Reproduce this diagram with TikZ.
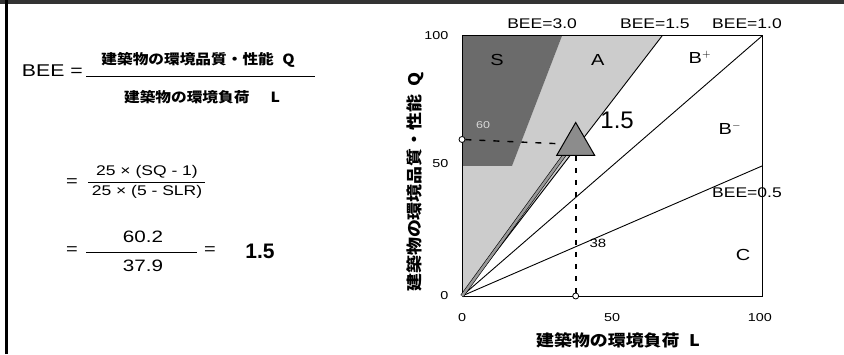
\documentclass[tikz,border=0pt]{standalone}
\usepackage{fontspec}
\setmainfont{Liberation Sans}
\newfontfamily\wide[FakeStretch=1.25]{Liberation Sans}
\newfontfamily\jp[FakeStretch=1.12]{Noto Sans CJK JP}
\usepackage{tikz}
\usetikzlibrary{shapes.geometric}
\tikzset{
  txt/.style = {inner sep=0pt, text centered},
  lbl/.style = {txt, font=\wide\fontsize{14}{14}\selectfont},% BEE=... labels
  tick_l/.style = {txt, font=\wide\fontsize{11.5}{11.5}\selectfont},% axis numbers
  zone_l/.style = {txt, font=\wide\fontsize{16}{16}\selectfont},% S, A, B, C
  jtitle/.style = {txt, font=\jp\bfseries\fontsize{16}{16}\selectfont},% axis titles
  jfrac/.style = {txt, font=\jp\bfseries\fontsize{14}{14}\selectfont},% words in BEE
  zone_s/.style = {fill=black!58},% rank S
  zone_a/.style = {fill=black!20},% rank A
  bee_l/.style = {line width=0.9pt},
  mark_o/.style = {circle, draw, fill=white, inner sep=0pt, minimum size=6pt,
    line width=0.8pt},
  dash_h/.style = {line width=1.4pt, dash pattern=on 6pt off 8pt},
  dash_v/.style = {line width=2pt, dash pattern=on 5pt off 7pt}
}
\begin{document}
\begin{tikzpicture}[x=1pt,y=1pt]
\useasboundingbox (0,0) rectangle (844,354);
% border of the page
\fill[black!80] (0,350) rectangle (844,354);
\draw[line width=3pt] (6,0) -- (6,354);

% left: formula
\node[txt, anchor=east, font=\wide\fontsize{17}{17}\selectfont] (bee) at (83,283) {BEE =};
\node[jfrac] (num) at (198,294) {建築物の環境品質・性能\hspace{0.6em}Q};
\node[jfrac] (den) at (202,257) {建築物の環境負荷\hspace{1.5em}L};
\draw (86,278) -- (315,278);

\node[txt, font=\wide\fontsize{16}{16}\selectfont] (eq1) at (72,171) {=};
\node[txt, font=\wide\fontsize{14}{14}\selectfont] (num2) at (147,182) {25 × (SQ - 1)};
\node[txt, font=\wide\fontsize{14}{14}\selectfont] (den2) at (147,162) {25 × (5 - SLR)};
\draw[line width=0.5pt] (88,172) -- (205,172);

\node[txt, font=\wide\fontsize{16}{16}\selectfont] (eq2) at (72,103) {=};
\node[txt, font=\wide\fontsize{16.5}{16.5}\selectfont] (num3) at (143,117) {60.2};
\node[txt, font=\wide\fontsize{16.5}{16.5}\selectfont] (den3) at (143,88) {37.9};
\draw[line width=0.8pt] (86,102) -- (197,102);
\node[txt, font=\wide\fontsize{16}{16}\selectfont] (eq3) at (210,103) {=};
\node[txt, font=\bfseries\fontsize{21}{21}\selectfont] (res) at (260,103) {1.5};

% right: chart
\begin{scope}[shift={(462,58)}, x=3pt, y=2.6pt]
  \fill[zone_a] (0,0) -- (0,50) -- (16.67,50) -- (33.33,100) -- (66.67,100) -- cycle;
  \fill[zone_s] (0,50) -- (0,100) -- (33.33,100) -- (16.67,50) -- cycle;
  \coordinate (o) at (0,0);
  \coordinate (e15) at (66.67,100);
  \coordinate (e10) at (100,100);
  \coordinate (e05) at (100,50);
  \coordinate (p) at (37.9,60.2);
  \draw[bee_l] (o) -- (e15);
  \draw[bee_l] (o) -- (e10);
  \draw[bee_l] (o) -- (e05);
  \draw[line width=1pt] (0,0) rectangle (100,100);
  \draw[double=black!40, double distance=2.5pt, line width=0.6pt] (o) -- (p);
  \node[regular polygon, regular polygon sides=3, draw, line width=1pt,
    fill=black!45, minimum size=44pt, inner sep=0pt, yshift=-5pt] (tri) at (p) {};
  \node[mark_o] (cq) at (0,60.2) {};
  \node[mark_o] (cl) at (37.9,0) {};
  \draw[dash_h] (cq) -- (tri);
  \draw[dash_v] (tri) -- (cl);

  \node[zone_l] (s) at (11.7,90.8) {S};
  \node[zone_l] (a) at (45.3,90.8) {A};
  \node[zone_l] (bp) at (79.3,91.9) {B$^{+}$};
  \node[zone_l] (bm) at (89.3,64.6) {B$^{-}$};
  \node[zone_l] (c) at (93.7,15.8) {C};
  \node[txt, font=\fontsize{24}{24}\selectfont] (big) at (51.7,67.7) {1.5};
  \node[txt, font=\wide\fontsize{12}{12}\selectfont] (l38) at (45.3,20.4) {38};
  \node[txt, text=black!15, font=\wide\fontsize{10}{10}\selectfont] (q60) at (7,65.8) {60};

  \node[lbl] (t30) at (26.7,104.6) {BEE=3.0};
  \node[lbl] (t15) at (64.3,104.6) {BEE=1.5};
  \node[lbl] (t10) at (95,104.6) {BEE=1.0};
  \node[lbl] (t05) at (95,39.6) {BEE=0.5};

  \node[tick_l, anchor=east] (y100) at (-4.5,100) {100};
  \node[tick_l, anchor=east] (y50) at (-4.5,50.8) {50};
  \node[tick_l, anchor=east] (y0) at (-4.5,0) {0};
  \node[tick_l] (x0) at (0,-8.1) {0};
  \node[tick_l] (x50) at (50,-8.1) {50};
  \node[tick_l] (x100) at (99.3,-8.1) {100};

  \node[jtitle] (xt) at (52,-16.9) {建築物の環境負荷\hspace{0.6em}L};
  \node[jtitle, rotate=90] (yt) at (-15.7,43.8) {建築物の環境品質・性能\hspace{0.5em}Q};
\end{scope}
\end{tikzpicture}
\end{document}
